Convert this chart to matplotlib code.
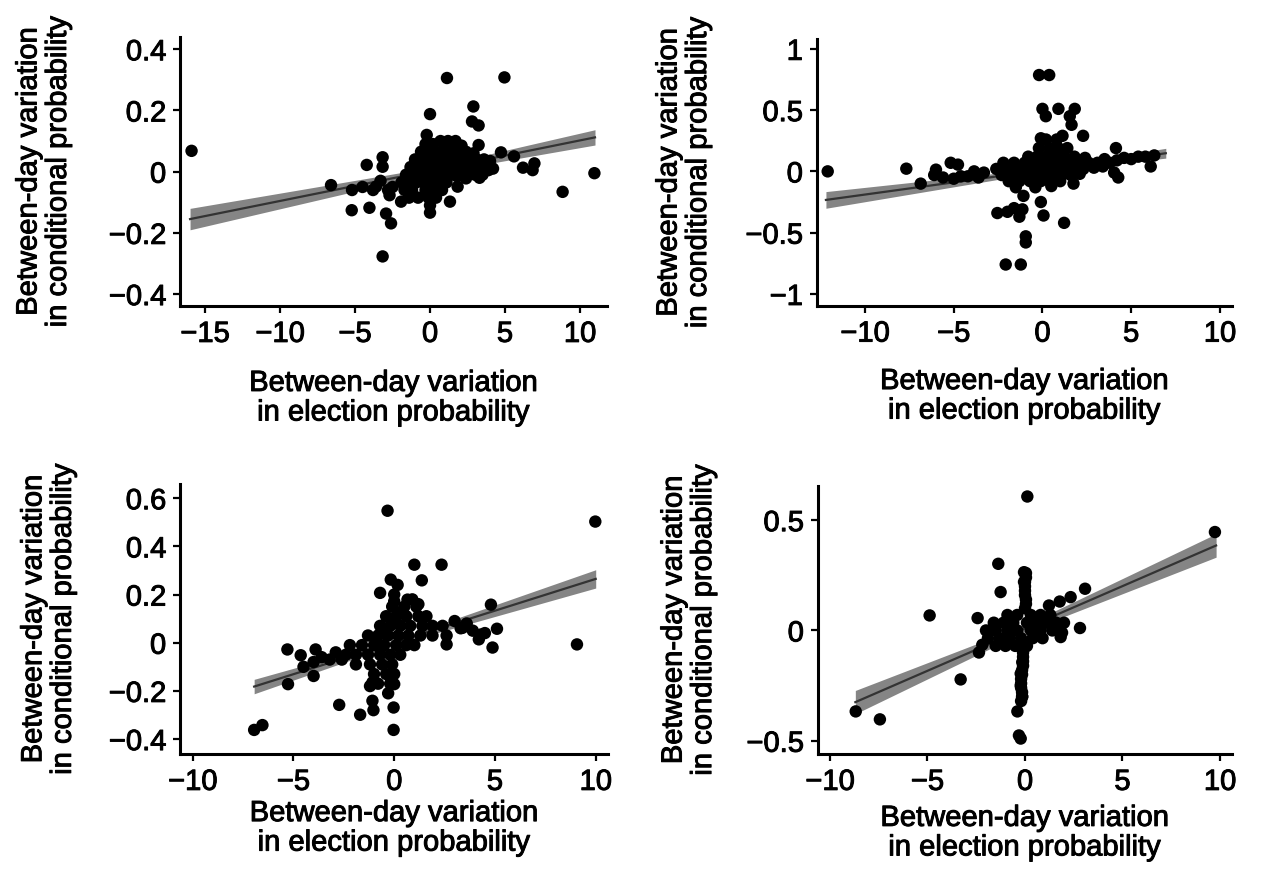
import matplotlib
matplotlib.use("Agg")
import matplotlib.pyplot as plt
import matplotlib.patheffects as pe
import numpy as np

plt.rcParams["font.family"] = ["Liberation Sans", "DejaVu Sans"]

# ---------------- data ----------------
# Panel A: scattered observations
x1 = [-15.9, 1.13, 4.96, 0.0, 2.89, 2.8, 3.24, -0.22, 3.24, 4.73, 5.6, 6.2, 6.96, 6.84,
      10.96, 8.84, -3.16, -4.22, -3.16, -6.6, -5.22, -4.04, -2.93, -2.6, -3.16, 1.33, 0.0,
      1.84, 2.4, -3.6, -2.7, -1.93, -2.5, -2.8, -3.3, -3.8, -4.5, -5.2]
y1 = [0.068, 0.306, 0.308, 0.188, 0.213, 0.164, 0.151, 0.12, 0.087, 0.063, 0.05, 0.013,
      0.027, 0.005, -0.005, -0.066, 0.047, 0.022, 0.016, -0.044, -0.126, -0.118, -0.137,
      -0.169, -0.277, -0.098, -0.134, -0.049, -0.022, -0.049, -0.077, -0.098, -0.05,
      -0.06, -0.03, -0.06, -0.05, -0.06]
# Panel A: dense central cluster
x1c = [-0.3, 0.2, 0.7, 1.2, 1.7, 2.1,
       -0.6, -0.1, 0.4, 0.9, 1.4, 1.9, 2.4, 2.9,
       -1.0, -0.5, 0.0, 0.6, 1.1, 1.6, 2.1, 2.7, 3.1, 3.6, 4.0,
       -1.3, -0.8, -0.3, 0.2, 0.7, 1.2, 1.7, 2.2, 2.9, 3.4, 3.8, 4.2,
       -1.6, -1.1, -0.6, 0.0, 0.5, 1.0, 1.4, 2.4, 3.0, 3.5,
       -1.9, -1.3, -0.9, -0.4, 0.2, 0.7, 1.1,
       -1.7, -1.2, -0.3, 0.3, 0.8,
       -1.4, -0.8, -0.1, 0.4, 0.0, 1.8, 3.3, 2.6, 3.9, 1.9, 2.6]
y1c = [0.09, 0.09, 0.10, 0.10, 0.10, 0.085,
       0.065, 0.065, 0.065, 0.07, 0.07, 0.07, 0.065, 0.06,
       0.04, 0.04, 0.04, 0.04, 0.04, 0.04, 0.04, 0.04, 0.04, 0.04, 0.035,
       0.015, 0.015, 0.015, 0.015, 0.015, 0.015, 0.015, 0.015, 0.015, 0.015, 0.015, 0.01,
       -0.01, -0.01, -0.01, -0.01, -0.01, -0.01, -0.01, -0.01, -0.01, -0.01,
       -0.035, -0.035, -0.035, -0.035, -0.035, -0.035, -0.035,
       -0.06, -0.06, -0.06, -0.06, -0.06,
       -0.085, -0.085, -0.085, -0.085, -0.11, -0.015, -0.02, 0.03, 0.005, 0.055, -0.005]
fit1_x = [-16.0, 0.0, 11.0]
fit1_y = [-0.155, 0.003, 0.112]
fit1_half = [0.035, 0.010, 0.025]

# Panel B
x2 = [-12.1, -7.67, -0.19, 0.38, 0.0, 0.19, 0.9, 1.82, 1.54, 1.64, 2.29, -0.09, 1.13,
      4.14, 4.04, 4.27, 6.1, -6.0, -6.1, -5.17, -4.76, -6.86, -3.85, -2.54, -1.97, -1.6,
      -1.3, -1.07, -1.13, -0.94, -0.94, -2.07, -1.22, -0.09, 0.06, 1.22, 1.75,
      3.5, 3.8, 4.2, 4.6, 5.0, 5.4, 5.8, 6.3, -3.6, -4.2, -5.0, -4.6, -3.3, -5.6]
y2 = [0.0, 0.022, 0.786, 0.786, 0.51, 0.45, 0.51, 0.51, 0.45, 0.38, 0.29, 0.27, 0.29,
      0.19, -0.01, -0.05, 0.04, 0.014, -0.03, 0.07, 0.055, -0.1, 0.0, -0.34, -0.33, -0.3,
      -0.37, -0.2, -0.31, -0.58, -0.53, -0.76, -0.76, -0.25, -0.36, -0.42, -0.1,
      0.10, 0.07, 0.09, 0.11, 0.10, 0.12, 0.12, 0.13, -0.05, -0.04, -0.06, -0.04, -0.01,
      -0.05]
x2c = [-0.8, -0.3, 0.2, 0.7, 1.2, 1.8, 2.4,
       -2.2, -1.6, -1.0, -0.5, 0.0, 0.5, 1.0, 1.5, 2.0, 2.6, 3.1,
       -2.6, -2.0, -1.4, -0.9, -0.3, 0.3, 0.8, 1.3, 1.8, 2.3, 2.9, 3.4,
       -2.3, -1.7, -1.1, -0.6, 0.0, 0.6, 1.1, 1.6, 2.1,
       -1.9, -1.3, -0.7, -0.1, 0.4, 1.0,
       -0.2, 0.4, 0.9, 1.4, 0.2, 0.8, -1.5, -0.4, 0.5]
y2c = [0.12, 0.12, 0.12, 0.12, 0.12, 0.12, 0.11,
       0.07, 0.07, 0.07, 0.07, 0.07, 0.07, 0.07, 0.07, 0.07, 0.07, 0.07,
       0.02, 0.02, 0.02, 0.02, 0.02, 0.02, 0.02, 0.02, 0.02, 0.02, 0.03, 0.04,
       -0.03, -0.03, -0.03, -0.03, -0.03, -0.03, -0.03, -0.03, -0.02,
       -0.08, -0.08, -0.08, -0.08, -0.08, -0.08,
       0.19, 0.19, 0.19, 0.19, 0.26, 0.26, -0.13, -0.13, -0.12]
fit2_x = [-12.2, 0.0, 6.95]
fit2_y = [-0.233, 0.010, 0.148]
fit2_half = [0.068, 0.015, 0.040]

# Panel C
x3 = [-0.33, 9.98, 1.0, 2.35, 1.37, -0.17, 0.17, -0.7, 0.0, 0.0, 0.66, 5.1, 4.88, 9.07,
      4.8, 2.6, -5.3, -4.64, -3.9, -5.27, -4.0, -2.73, -1.69, -1.08, -1.03, -0.03, -0.03,
      0.0, -1.08, -6.95, -6.54, 3.39, 4.3, 4.2,
      -4.5, -4.0, -3.6, -3.2, -2.9, -2.6, 3.0, 3.3, 3.6, 3.9, 4.5, -1.2, -0.3, 1.2, 0.9]
y3 = [0.548, 0.503, 0.324, 0.324, 0.259, 0.262, 0.24, 0.207, 0.2, 0.172, 0.179, 0.058,
      -0.02, -0.007, 0.158, -0.007, -0.028, -0.052, -0.028, -0.172, -0.138, -0.258, -0.299,
      -0.241, -0.28, -0.269, -0.362, -0.172, -0.165, -0.362, -0.342, 0.062, 0.034, 0.014,
      -0.10, -0.08, -0.06, -0.07, -0.04, -0.07, 0.09, 0.06, 0.08, 0.05, 0.04, -0.18,
      -0.21, 0.16, 0.18]
x3c = [-0.1, 0.5, 1.1,
       -0.4, 0.1, 0.6, 1.2, 1.6,
       -0.7, -0.2, 0.3, 0.8, 1.4, 1.9, 2.4,
       -1.3, -0.8, -0.3, 0.2, 0.7, 1.3, 1.9, 2.6,
       -2.2, -1.6, -1.0, -0.5, 0.1, 0.6, 1.0,
       -2.4, -1.9, -1.3, -0.7, -0.2, 0.3,
       -1.9, -1.2, -0.6, -0.1,
       -1.0, -0.4, 0.0, -0.8, -0.2, -0.5, 0.0, -0.9, 0.4]
y3c = [0.15, 0.15, 0.15,
       0.11, 0.11, 0.11, 0.11, 0.11,
       0.07, 0.07, 0.07, 0.07, 0.07, 0.07, 0.07,
       0.03, 0.03, 0.03, 0.03, 0.03, 0.03, 0.03, 0.03,
       -0.01, -0.01, -0.01, -0.01, -0.01, -0.01, -0.01,
       -0.05, -0.05, -0.05, -0.05, -0.05, -0.05,
       -0.09, -0.09, -0.09, -0.09,
       -0.13, -0.13, -0.13, -0.17, -0.17, 0.05, 0.10, 0.0, 0.13]
fit3_x = [-6.95, 0.0, 10.0]
fit3_y = [-0.182, 0.001, 0.265]
fit3_half = [0.030, 0.010, 0.038]

# Panel D
x4 = [0.12, -1.37, -1.25, -4.89, -2.43, -3.3, -7.44, -8.68, 9.74, 3.08, 2.34, 1.78, 2.82,
      1.23, -0.05, 0.0, -0.14, -0.22, -0.22, -0.14, -0.39, -0.31, -0.22, 1.83, 1.9,
      -2.19, -2.36]
y4 = [0.607, 0.302, 0.174, 0.068, 0.056, -0.222, -0.403, -0.367, 0.446, 0.189, 0.151,
      0.131, 0.011, 0.113, 0.264, 0.22, -0.144, -0.196, -0.25, -0.3, -0.367, -0.476,
      -0.49, -0.03, -0.01, -0.065, -0.10]
x4c = [-0.9, -0.4, 0.3, 0.8, 1.3,
       -1.6, -1.1, -0.6, 0.1, 0.6, 1.1, 1.6, 2.0,
       -2.0, -1.5, -0.9, -0.4, 0.3, 0.8, 1.4,
       -1.9, -1.3, -0.8, -0.2, 0.4, 0.9,
       -1.5, -1.0, -0.5, 0.1,
       0.0, 0.05, 0.0, -0.05, 0.05, -0.1, -0.1, -0.15, -0.2, -0.2, -0.15, 0.05, 0.0, -0.1,
       0.0, -0.05, -0.1, -0.15, -0.2, -0.15, -0.2, 0.05]
y4c = [0.07, 0.07, 0.07, 0.07, 0.07,
       0.035, 0.035, 0.035, 0.035, 0.035, 0.035, 0.035, 0.035,
       0.0, 0.0, 0.0, 0.0, 0.0, 0.0, 0.0,
       -0.035, -0.035, -0.035, -0.035, -0.035, -0.035,
       -0.07, -0.07, -0.07, -0.07,
       0.10, 0.14, 0.18, 0.22, 0.26, -0.10, -0.14, -0.18, -0.22, -0.26, -0.30, 0.12,
       0.16, -0.12,
       0.20, -0.08, -0.16, -0.20, -0.24, -0.28, -0.32, 0.24]
fit4_x = [-8.7, 0.0, 9.8]
fit4_y = [-0.325, 0.009, 0.385]
fit4_half = [0.053, 0.015, 0.053]

xtick_vals = [[-15, -10, -5, 0, 5, 10], [-10, -5, 0, 5, 10],
              [-10, -5, 0, 5, 10], [-10, -5, 0, 5, 10]]
ytick_vals = [[0.4, 0.2, 0, -0.2, -0.4], [1, 0.5, 0, -0.5, -1],
              [0.6, 0.4, 0.2, 0, -0.2, -0.4], [0.5, 0, -0.5]]
xlims = [(-16.67, 11.8), (-12.72, 10.68), (-10.63, 10.61), (-10.63, 10.6)]
ylims = [(-0.439, 0.44), (-1.096, 1.08), (-0.462, 0.659), (-0.56, 0.656)]

xlabel_text = "Between-day variation\nin election probability"
ylabel_text = "Between-day variation\nin conditional probability"

# ---------------- layout ----------------
W, H = 1264, 878
fig = plt.figure(figsize=(W / 100, H / 100), dpi=100)
fig.patch.set_facecolor("white")

# axes boxes in pixels: left, top, right, bottom
boxes = [(180, 38, 607, 307), (816.7, 40, 1232, 306.7),
         (180, 485, 608, 755), (817.7, 486.7, 1231.7, 755)]
xlabel_y = [-0.234, -0.230, -0.167, -0.186]
ylabel_x = [-0.253, -0.252, -0.241, -0.243]

panels = [(x1 + x1c, y1 + y1c, fit1_x, fit1_y, fit1_half),
          (x2 + x2c, y2 + y2c, fit2_x, fit2_y, fit2_half),
          (x3 + x3c, y3 + y3c, fit3_x, fit3_y, fit3_half),
          (x4 + x4c, y4 + y4c, fit4_x, fit4_y, fit4_half)]

heavy = [pe.withStroke(linewidth=0.7, foreground="black")]


def fmt(v):
    if v == 0:
        return "0"
    s = ("%g" % abs(v))
    return ("\u2212" if v < 0 else "") + s


for i, (xs, ys, fx, fy, fh) in enumerate(panels):
    l, t, r, b = boxes[i]
    ax = fig.add_axes([l / W, 1 - b / H, (r - l) / W, (b - t) / H])
    fx = np.asarray(fx)
    fy = np.asarray(fy)
    fh = np.asarray(fh)
    ax.fill_between(fx, fy - fh, fy + fh, color="#858585", lw=0, zorder=1)
    ax.plot(fx, fy, color="#333333", lw=1.6, zorder=2)
    ax.scatter(xs, ys, s=80, color="black", edgecolors="none", zorder=3)

    ax.set_xlim(*xlims[i])
    ax.set_ylim(*ylims[i])
    ax.set_xticks(xtick_vals[i])
    ax.set_xticklabels([fmt(v) for v in xtick_vals[i]], fontsize=21)
    ax.set_yticks(ytick_vals[i])
    ax.set_yticklabels([fmt(v) for v in ytick_vals[i]], fontsize=21)
    for lab in ax.get_xticklabels() + ax.get_yticklabels():
        lab.set_path_effects(heavy)
    for side in ("top", "right"):
        ax.spines[side].set_visible(False)
    for side in ("left", "bottom"):
        ax.spines[side].set_linewidth(2.2)
    ax.tick_params(direction="out", length=5, width=1.6, pad=5, colors="black")

    ax.set_xlabel(xlabel_text, fontsize=21, linespacing=1.07)
    ax.xaxis.set_label_coords(0.5, xlabel_y[i])
    ax.xaxis.label.set_va("top")
    ax.xaxis.label.set_path_effects(heavy)
    ax.set_ylabel(ylabel_text, fontsize=21, linespacing=1.07)
    ax.yaxis.set_label_coords(ylabel_x[i], 0.5)
    ax.yaxis.label.set_path_effects(heavy)

fig.savefig("out.png", dpi=100, facecolor="white")
